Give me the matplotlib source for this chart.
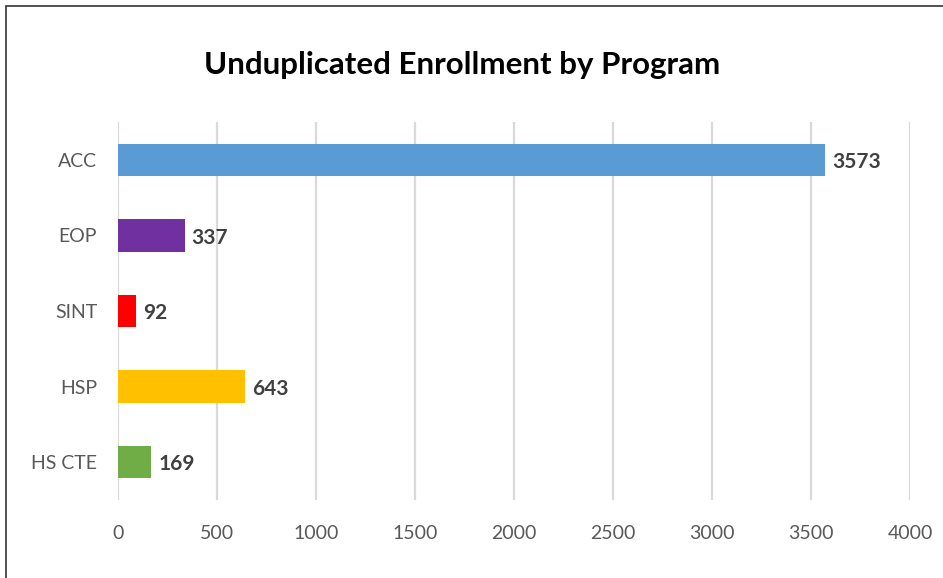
import matplotlib.pyplot as plt
from matplotlib.patches import Rectangle

# data
programs = ['ACC', 'EOP', 'SINT', 'HSP', 'HS CTE']
enrollment = [3573, 337, 92, 643, 169]
colors = ['#5B9BD5', '#7030A0', '#FF0000', '#FFC000', '#70AD47']
xticks = [0, 500, 1000, 1500, 2000, 2500, 3000, 3500, 4000]

fig = plt.figure(figsize=(9.43, 5.78), dpi=100)
ax = fig.add_axes([118/943, 1 - 500/578, (910 - 118)/943, (500 - 122)/578])

ypos = list(range(len(programs)))
ax.barh(ypos, enrollment, height=0.43, color=colors, zorder=3)

for y, v in zip(ypos, enrollment):
    ax.text(v + 35, y + 0.03, str(v), va='center', ha='left', fontsize=15,
            fontweight='bold', color='#404040', family='Lato', zorder=4)

ax.set_xlim(0, 4000)
ax.set_ylim(4.5, -0.5)
ax.set_yticks(ypos)
ax.set_yticklabels(programs, family='Lato', fontsize=14, color='#595959')
ax.set_xticks(xticks)
ax.set_xticklabels([str(t) for t in xticks], family='Lato', fontsize=14, color='#595959')
ax.tick_params(axis='y', length=0, pad=15)
ax.tick_params(axis='x', length=0, pad=18)
ax.xaxis.grid(True, color='#D9D9D9', linewidth=1.6, zorder=0)
ax.set_axisbelow(True)
for s in ax.spines.values():
    s.set_visible(False)

fig.text(462/943, 1 - 65/578, 'Unduplicated Enrollment by Program', ha='center', va='center',
         fontsize=22.5, fontweight='bold', family='Lato', color='black')

# outer chart border
fig.patches.append(Rectangle((6/943, -0.1), 1.2, 1 - 6/578 + 0.1, transform=fig.transFigure,
                             fill=False, edgecolor='#333333', linewidth=1.2))

plt.savefig('out.png', dpi=100)
